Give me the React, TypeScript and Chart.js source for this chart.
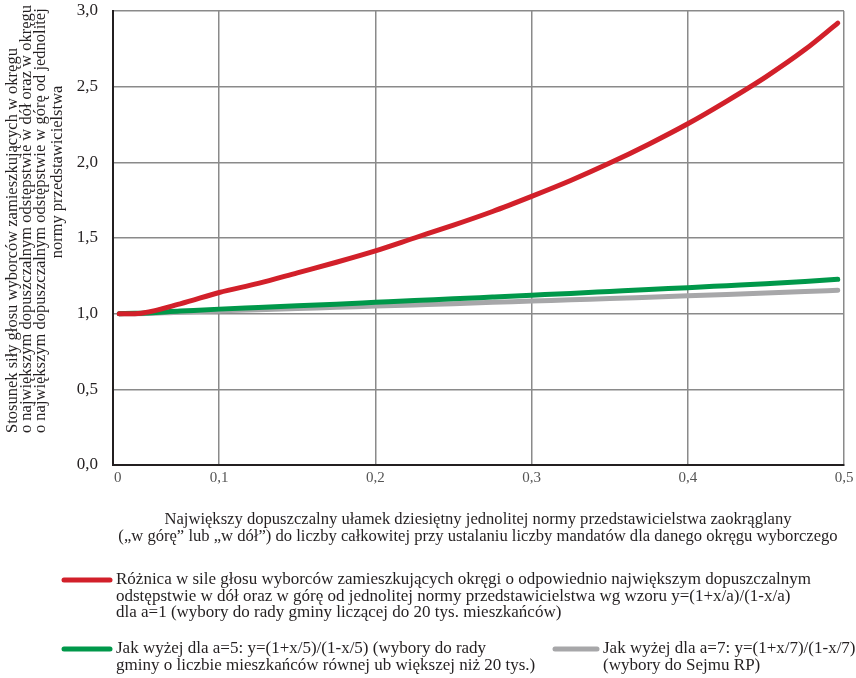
import React, { useEffect, useRef } from "react";
import { Chart, registerables } from "chart.js";

Chart.register(...registerables);

// ---- data ----
const X_VALUES = [0.036, 0.046, 0.075, 0.1, 0.125, 0.15, 0.175, 0.2, 0.225, 0.25, 0.275, 0.3, 0.325, 0.35, 0.375, 0.4, 0.425, 0.45, 0.475, 0.496];
const RED_A1 = [1.0, 1.0, 1.065, 1.14, 1.2, 1.27, 1.34, 1.415, 1.5, 1.585, 1.675, 1.775, 1.88, 1.995, 2.12, 2.255, 2.405, 2.565, 2.745, 2.92];
const GREEN_A5 = [1.0, 1.002, 1.017, 1.03, 1.041, 1.052, 1.063, 1.075, 1.087, 1.098, 1.11, 1.122, 1.134, 1.147, 1.16, 1.172, 1.185, 1.198, 1.212, 1.227];
const GRAY_A7 = [1.0, 1.0, 1.01, 1.018, 1.026, 1.034, 1.042, 1.05, 1.058, 1.066, 1.075, 1.083, 1.092, 1.1, 1.109, 1.118, 1.127, 1.136, 1.146, 1.155];

const X_MIN = 0.032;
const X_MAX = 0.5;
const X_TICKS = [0.035, 0.1, 0.2, 0.3, 0.4, 0.5];
const X_TICK_LABELS = ["0", "0,1", "0,2", "0,3", "0,4", "0,5"];
const Y_TICK_LABELS = ["0,0", "0,5", "1,0", "1,5", "2,0", "2,5", "3,0"];

const Y_TITLE = [
  "Stosunek siły głosu wyborców zamieszkujących w okręgu",
  "o największym dopuszczalnym odstępstwie w dół oraz w okręgu",
  "o największym dopuszczalnym odstępstwie w górę od jednolitej",
  "normy przedstawicielstwa",
];
const X_TITLE = [
  "Największy dopuszczalny ułamek dziesiętny jednolitej normy przedstawicielstwa zaokrąglany",
  "(„w górę” lub „w dół”) do liczby całkowitej przy ustalaniu liczby mandatów dla danego okręgu wyborczego",
];
const LEGEND_RED = [
  "Różnica w sile głosu wyborców zamieszkujących okręgi o odpowiednio największym dopuszczalnym",
  "odstępstwie w dół oraz w górę od jednolitej normy przedstawicielstwa wg wzoru y=(1+x/a)/(1-x/a)",
  "dla a=1 (wybory do rady gminy liczącej do 20 tys. mieszkańców)",
];
const LEGEND_GREEN = [
  "Jak wyżej dla a=5: y=(1+x/5)/(1-x/5) (wybory do rady",
  "gminy o liczbie mieszkańców równej ub większej niż 20 tys.)",
];
const LEGEND_GRAY = [
  "Jak wyżej dla a=7: y=(1+x/7)/(1-x/7)",
  "(wybory do Sejmu RP)",
];

const RED = "#d2202a";
const GREEN = "#00984a";
const GRAY = "#a7a7a9";
const TEXT = "#231f20";
const FONT = '"Liberation Serif", "DejaVu Serif", serif';

const textPlugin = {
  id: "textPlugin",
  afterDraw(chart: any) {
    const ctx = chart.ctx as CanvasRenderingContext2D;
    ctx.save();
    ctx.fillStyle = TEXT;
    ctx.textBaseline = "middle";

    // y axis title (rotated)
    ctx.font = `16.5px ${FONT}`;
    const yx = [13, 27, 41, 58];
    Y_TITLE.forEach((line, i) => {
      ctx.save();
      ctx.translate(yx[i], i === 3 ? 172 : 433);
      ctx.rotate(-Math.PI / 2);
      ctx.textAlign = i === 3 ? "center" : "left";
      ctx.fillText(line, 0, 0);
      ctx.restore();
    });

    // x axis title
    ctx.textAlign = "center";
    ctx.font = `16.6px ${FONT}`;
    X_TITLE.forEach((line, i) => ctx.fillText(line, 478, 520 + i * 16.5));

    // legend
    const drawEntry = (color: string, x1: number, x2: number, y: number, lines: string[]) => {
      ctx.strokeStyle = color;
      ctx.lineWidth = 5;
      ctx.lineCap = "round";
      ctx.beginPath();
      ctx.moveTo(x1, y);
      ctx.lineTo(x2, y);
      ctx.stroke();
      ctx.textAlign = "left";
      ctx.font = `17px ${FONT}`;
      lines.forEach((l, i) => ctx.fillText(l, x2 + 6, y + i * 16.5));
    };
    const ds = chart.data.datasets;
    drawEntry(ds[0].borderColor, 64, 110, 580, LEGEND_RED);
    drawEntry(ds[1].borderColor, 64, 110, 649, LEGEND_GREEN);
    drawEntry(ds[2].borderColor, 555, 597, 649, LEGEND_GRAY);
    ctx.restore();
  },
};

export default function App() {
  const ref = useRef<HTMLCanvasElement>(null);
  useEffect(() => {
    if (!ref.current) return;
    const mk = (ys: number[]) => X_VALUES.map((x, i) => ({ x, y: ys[i] }));
    const chart = new Chart(ref.current, {
      type: "line",
      data: {
        datasets: [
          { label: LEGEND_RED.join(" "), data: mk(RED_A1), borderColor: RED, borderWidth: 5 },
          { label: LEGEND_GREEN.join(" "), data: mk(GREEN_A5), borderColor: GREEN, borderWidth: 5 },
          { label: LEGEND_GRAY.join(" "), data: mk(GRAY_A7), borderColor: GRAY, borderWidth: 5 },
        ].map((d) => ({
          ...d,
          pointRadius: 0,
          fill: false,
          cubicInterpolationMode: "monotone" as const,
          borderCapStyle: "round" as const,
          borderJoinStyle: "round" as const,
        })),
      },
      options: {
        responsive: false,
        animation: false,
        layout: { padding: { left: 0, right: 12, top: 11, bottom: 188 } },
        plugins: { legend: { display: false }, tooltip: { enabled: false } },
        scales: {
          x: {
            type: "linear",
            min: X_MIN,
            max: X_MAX,
            afterBuildTicks: (s: any) => {
              s.ticks = X_TICKS.map((v) => ({ value: v }));
            },
            afterFit: (s: any) => {
              s.height = 25;
              s.paddingLeft = 0;
              s.paddingRight = 0;
            },
            ticks: {
              autoSkip: false,
              maxRotation: 0,
              padding: 4,
              color: "#555",
              font: { family: FONT, size: 15 },
              callback: (_v: any, i: number) => X_TICK_LABELS[i],
            },
            grid: {
              drawTicks: false,
              color: (c: any) => (c.index === 0 ? "rgba(0,0,0,0)" : "#8a8a8a"),
              lineWidth: 1.5,
            },
            border: { display: true, color: TEXT, width: 2 },
          },
          y: {
            min: 0,
            max: 3,
            afterBuildTicks: (s: any) => {
              s.ticks = Y_TICK_LABELS.map((_, i) => ({ value: i * 0.5 }));
            },
            afterFit: (s: any) => {
              s.width = 113;
              s.paddingTop = 0;
              s.paddingBottom = 0;
            },
            ticks: {
              padding: 15,
              color: TEXT,
              font: { family: FONT, size: 17 },
              callback: (_v: any, i: number) => Y_TICK_LABELS[i],
            },
            grid: { drawTicks: false, color: "#8a8a8a", lineWidth: 1.5 },
            border: { display: true, color: TEXT, width: 2 },
          },
        },
      },
      plugins: [textPlugin],
    });
    return () => chart.destroy();
  }, []);
  return (
    <div style={{ position: "fixed", left: 0, top: 0, width: 856, height: 678, background: "#fff" }}>
      <canvas ref={ref} width={856} height={678} style={{ width: 856, height: 678, display: "block" }} />
    </div>
  );
}
